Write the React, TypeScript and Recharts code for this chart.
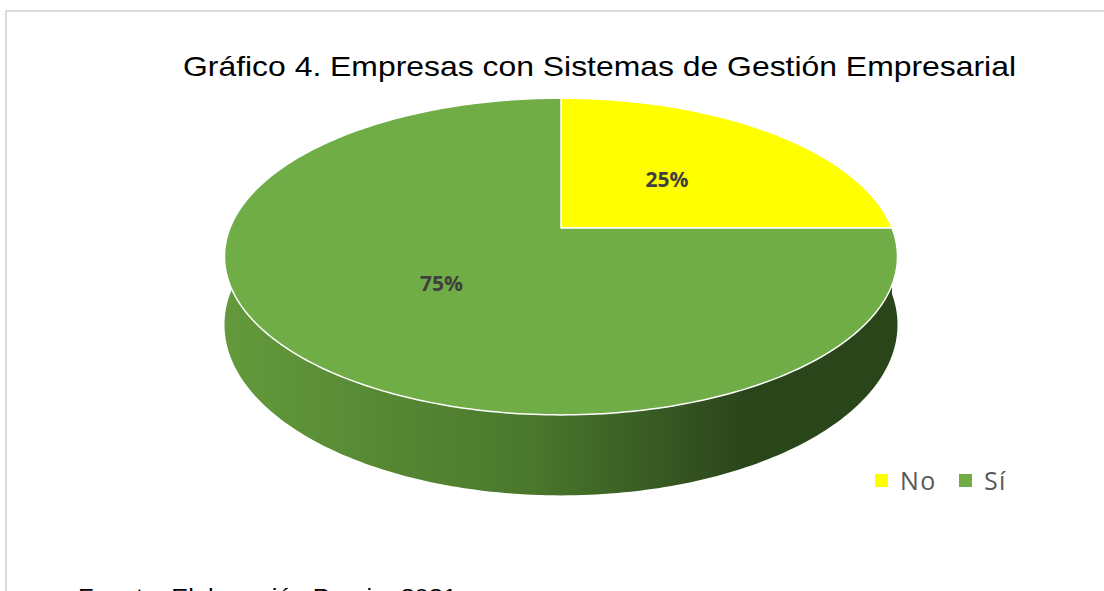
import React from 'react';
import { PieChart, Pie, Legend } from 'recharts';

const categories = ['No', 'Sí'];
const shares = [25, 75];
const sliceColors = ['#ffff00', '#70ad47'];
const sideStops: string[][] = [
  ['#b8b800', '#8a8a00', '#5c5c00'],
  ['#63993c', '#4a782c', '#2b451b'],
];

const title = 'Gráfico 4. Empresas con Sistemas de Gestión Empresarial';
const source = 'Fuente: Elaboración Propia, 2021';

const data = categories.map((name, i) => ({ name, value: shares[i], fill: sliceColors[i] }));

const W = 1104;
const H = 591;
const CX = 561;
const CY = 228;
const R = 331;
const FLAT = 0.463; // vertical squash of the disc
const PERSP = 0.18; // near side bigger than far side
const THICK = 66;

// point on the tilted disc, angle in degrees, rho = fraction of radius
const project = (cx: number, cy: number, r: number, deg: number, rho: number) => {
  const t = (deg * Math.PI) / 180;
  const x = rho * Math.cos(t);
  const z = rho * Math.sin(t);
  const s = 1 / (1 + PERSP * z);
  return { x: cx + r * x * s, y: cy - r * FLAT * z * s, s };
};

const arc = (cx: number, cy: number, r: number, from: number, to: number, drop = 0) => {
  const n = Math.max(2, Math.ceil(Math.abs(to - from)));
  const pts: string[] = [];
  for (let i = 0; i <= n; i++) {
    const p = project(cx, cy, r, from + ((to - from) * i) / n, 1);
    pts.push(`${p.x.toFixed(2)},${(p.y + drop * p.s * (r / R)).toFixed(2)}`);
  }
  return pts;
};

const TopSector = (props: any) => {
  const { cx, cy, outerRadius, startAngle, endAngle, fill } = props;
  const pts = arc(cx, cy, outerRadius, startAngle, endAngle);
  const d = `M${cx},${cy} L${pts.join(' L')} Z`;
  return <path d={d} fill={fill} stroke="#ffffff" strokeWidth={1.5} strokeLinejoin="round" />;
};

const SideSector = (props: any) => {
  const { cx, cy, outerRadius, startAngle, endAngle, index } = props;
  const lo = Math.max(Math.min(startAngle, endAngle), -192);
  const hi = Math.min(Math.max(startAngle, endAngle), 12);
  if (hi <= lo) return <g />;
  const top = arc(cx, cy, outerRadius, lo, hi);
  const bottom = arc(cx, cy, outerRadius, hi, lo, THICK);
  const id = `side-grad-${index}`;
  const stops = sideStops[index % sideStops.length];
  return (
    <g>
      <defs>
        <linearGradient id={id} gradientUnits="userSpaceOnUse" x1={cx - outerRadius} x2={cx + outerRadius} y1={0} y2={0}>
          <stop offset="0" stopColor={stops[0]} />
          <stop offset="0.45" stopColor={stops[1]} />
          <stop offset="0.78" stopColor={stops[2]} />
          <stop offset="1" stopColor={stops[2]} />
        </linearGradient>
      </defs>
      <path d={`M${top.join(' L')} L${bottom.join(' L')} Z`} fill={`url(#${id})`} stroke="none" />
    </g>
  );
};

const renderLabel = (props: any) => {
  const { cx, cy, outerRadius, midAngle, percent } = props;
  const p = project(cx, cy, outerRadius, midAngle, 0.48);
  return (
    <text
      x={p.x}
      y={p.y}
      textAnchor="middle"
      dominantBaseline="central"
      fill="#404040"
      fontFamily='"Open Sans", sans-serif'
      fontWeight={700}
      fontSize={21}
    >
      {`${Math.round(percent * 100)}%`}
    </text>
  );
};

const LegendContent = (props: any) => {
  const seen = new Set<string>();
  const items = (props.payload || []).filter((p: any) => {
    if (seen.has(p.value)) return false;
    seen.add(p.value);
    return true;
  });
  return (
    <div style={{ display: 'flex', alignItems: 'center', fontFamily: '"Open Sans", sans-serif', fontSize: 25, color: '#595959', letterSpacing: 1.5 }}>
      {items.map((item: any) => (
        <div key={item.value} style={{ display: 'flex', alignItems: 'center', marginRight: 22 }}>
          <span style={{ display: 'inline-block', width: 13, height: 13, background: item.color, marginRight: 12 }} />
          <span style={{ lineHeight: '30px' }}>{item.value}</span>
        </div>
      ))}
    </div>
  );
};

export default function App() {
  return (
    <div style={{ position: 'absolute', left: 0, top: 0, width: W, height: H, overflow: 'hidden', background: '#ffffff' }}>
      <div
        style={{
          position: 'absolute',
          left: 5,
          top: 10,
          width: W + 100,
          height: H + 100,
          borderTop: '2px solid #d9d9d9',
          borderLeft: '2px solid #d9d9d9',
        }}
      />
      <svg width={W} height={H + 30} style={{ position: 'absolute', left: 0, top: 0 }}>
        <text x={183} y={76} fontFamily='"Liberation Sans", Arial, sans-serif' fontSize={28} fill="#000000" textLength={833} lengthAdjust="spacingAndGlyphs">
          {title}
        </text>
        <text x={78} y={604} fontFamily='"Liberation Sans", Arial, sans-serif' fontSize={22} fill="#000000" textLength={379} lengthAdjust="spacingAndGlyphs">
          {source}
        </text>
      </svg>
      <div style={{ position: 'absolute', left: 0, top: 0 }}>
        <PieChart width={W} height={H} margin={{ top: 0, right: 0, bottom: 0, left: 0 }}>
          <Pie
            data={data}
            dataKey="value"
            nameKey="name"
            cx={CX}
            cy={CY}
            outerRadius={R}
            startAngle={90}
            endAngle={-270}
            shape={SideSector}
            legendType="none"
            isAnimationActive={false}
          />
          <Pie
            data={data}
            dataKey="value"
            nameKey="name"
            cx={CX}
            cy={CY}
            outerRadius={R}
            startAngle={90}
            endAngle={-270}
            shape={TopSector}
            label={renderLabel}
            labelLine={false}
            legendType="square"
            isAnimationActive={false}
          />
          <Legend content={LegendContent} wrapperStyle={{ position: 'absolute', left: 875, top: 465, width: 200 }} />
        </PieChart>
      </div>
    </div>
  );
}
